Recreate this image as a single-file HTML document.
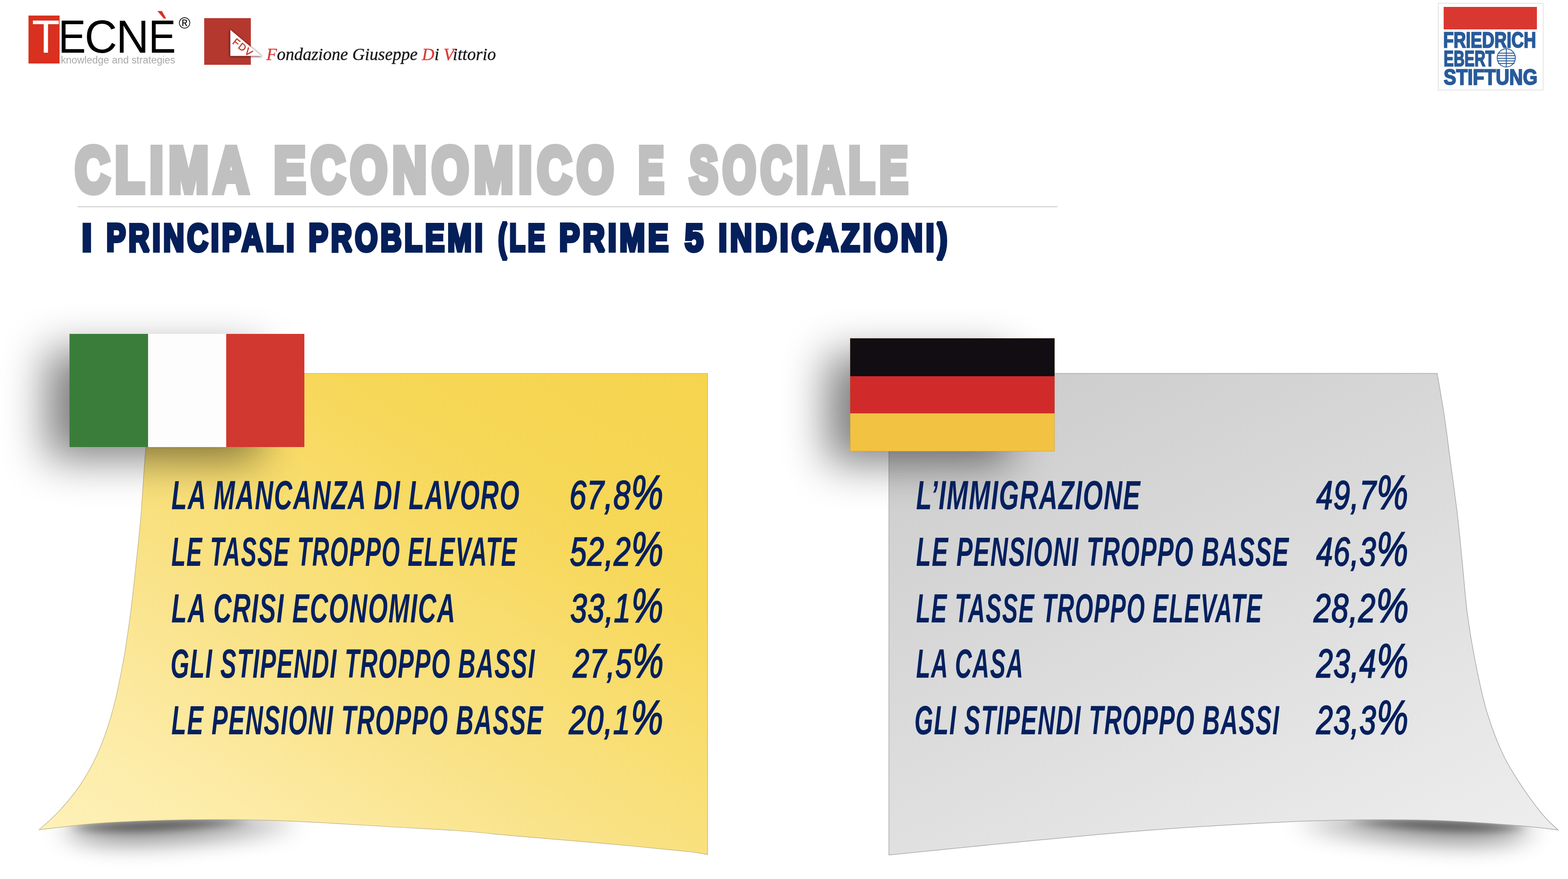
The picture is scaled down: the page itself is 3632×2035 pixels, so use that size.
<!DOCTYPE html>
<html><head><meta charset="utf-8">
<style>
html,body{margin:0;padding:0;background:#fff;}
body{width:3632px;height:2035px;position:relative;overflow:hidden;font-family:"Liberation Sans",sans-serif;}
.abs{position:absolute;}
#bg{position:absolute;left:0;top:0;}
.t{position:absolute;white-space:pre;transform-origin:0 0;line-height:1;}
#fdv span{color:#dc3b36;-webkit-text-stroke-color:#dc3b36;}
</style></head>
<body>
<svg id="bg" width="3632" height="2035" viewBox="0 0 3632 2035">
<defs>
  <linearGradient id="gy" x1="1639" y1="864" x2="737" y2="2324" gradientUnits="userSpaceOnUse">
    <stop offset="0" stop-color="#f6d44f"/>
    <stop offset="0.26" stop-color="#f7d757"/>
    <stop offset="0.53" stop-color="#f9e07b"/>
    <stop offset="0.62" stop-color="#f9e288"/>
    <stop offset="0.84" stop-color="#fdeca8"/>
    <stop offset="1" stop-color="#fef1b8"/>
  </linearGradient>
  <linearGradient id="gg" x1="2059" y1="864" x2="2764" y2="2333" gradientUnits="userSpaceOnUse">
    <stop offset="0" stop-color="#cacaca"/>
    <stop offset="1" stop-color="#eeeeee"/>
  </linearGradient>
  <filter id="b30" x="-2" y="-2" width="5" height="5"><feGaussianBlur stdDeviation="30"/></filter>
  <filter id="b16" x="-2" y="-2" width="5" height="5"><feGaussianBlur stdDeviation="16"/></filter>
  <filter id="b28" x="-2" y="-2" width="5" height="5"><feGaussianBlur stdDeviation="28"/></filter>
  <filter id="b10" x="-2" y="-2" width="5" height="5"><feGaussianBlur stdDeviation="10"/></filter>
  <filter id="b14" x="-2" y="-2" width="5" height="5"><feGaussianBlur stdDeviation="14"/></filter>
  <filter id="b50" x="-2" y="-2" width="5" height="5"><feGaussianBlur stdDeviation="50"/></filter>
  <filter id="b42" x="-2" y="-2" width="5" height="5"><feGaussianBlur stdDeviation="42"/></filter>
  <filter id="b33" x="-2" y="-2" width="5" height="5"><feGaussianBlur stdDeviation="33"/></filter>
</defs>
<!-- note curl shadows -->
<path d="M140,1917 C220,1905 400,1896 520,1897 C590,1898 650,1900 700,1903 C590,1925 450,1945 320,1948 C230,1950 170,1940 140,1917 Z" fill="#000" opacity="0.55" filter="url(#b28)"/>
<path d="M160,1914 C230,1904 360,1897 460,1897 C510,1898 550,1899 580,1901 C500,1912 400,1922 310,1924 C230,1925 185,1920 160,1914 Z" fill="#000" opacity="0.5" filter="url(#b10)"/>
<path d="M 3558,1917 C 3478,1905 3298,1896 3178,1897 C 3108,1898 3048,1900 2998,1903 C 3108,1925 3248,1945 3378,1948 C 3468,1950 3528,1940 3558,1917 Z" fill="#000" opacity="0.55" filter="url(#b28)"/>
<path d="M 3538,1914 C 3468,1904 3338,1897 3238,1897 C 3188,1898 3148,1899 3118,1901 C 3198,1912 3298,1922 3388,1924 C 3468,1925 3513,1920 3538,1914 Z" fill="#000" opacity="0.5" filter="url(#b10)"/>
<!-- yellow note -->
<path id="ny" d="M369,864.5 L1639,864.5 L1639,1978.6 C1630.5,1977.3 1628.8,1975.2 1588.0,1970.8 C1547.2,1966.4 1458.7,1958.2 1394.0,1952.4 C1329.3,1946.6 1256.0,1940.8 1200.0,1935.9 C1144.0,1931.0 1105.0,1926.5 1058.0,1923.0 C1011.0,1919.5 964.5,1917.7 918.0,1915.0 C871.5,1912.3 825.5,1909.2 779.0,1906.6 C732.5,1904.0 685.7,1901.1 639.0,1899.6 C592.3,1898.0 545.6,1897.3 499.0,1897.3 C452.4,1897.3 406.1,1898.0 359.5,1899.6 C312.9,1901.1 264.5,1903.0 219.7,1906.6 C174.9,1910.2 112.0,1918.6 90.5,1921.0 C98.1,1914.0 120.2,1895.9 136.0,1878.7 C151.8,1861.5 170.3,1840.6 185.6,1817.7 C200.8,1794.8 215.2,1769.5 227.5,1741.5 C239.8,1713.5 250.0,1684.2 259.5,1650.0 C269.0,1615.8 277.5,1574.0 284.6,1536.0 C291.7,1498.0 296.9,1460.2 302.0,1422.0 C307.1,1383.8 310.9,1345.2 315.0,1307.0 C319.1,1268.8 322.7,1238.1 326.5,1193.0 C330.3,1147.9 333.8,1074.8 338.0,1036.6 C342.2,998.4 346.8,992.7 352.0,964.0 C357.2,935.3 366.2,881.1 369.0,864.5 Z" fill="url(#gy)" stroke="#b9ad80" stroke-width="1.2"/>
<!-- gray note -->
<path id="ng" d="M2059,864.5 L3329,864.5 C3331.8,881.1 3340.4,928.3 3345.7,964.0 C3351.0,999.7 3355.9,1040.5 3361.0,1078.7 C3366.1,1116.9 3371.6,1155.0 3376.0,1193.0 C3380.4,1231.0 3383.8,1268.8 3387.6,1307.0 C3391.4,1345.2 3393.9,1383.8 3399.0,1422.0 C3404.1,1460.2 3410.4,1498.0 3418.0,1536.0 C3425.6,1574.0 3433.9,1614.4 3444.7,1650.0 C3455.5,1685.6 3468.8,1720.2 3482.8,1749.5 C3496.8,1778.8 3513.3,1802.8 3528.5,1825.7 C3543.7,1848.6 3560.6,1870.7 3574.0,1886.7 C3587.4,1902.7 3603.2,1915.7 3609.0,1921.5 C3594.9,1919.9 3569.2,1915.6 3524.5,1912.0 C3479.8,1908.4 3402.1,1902.3 3341.0,1900.0 C3279.9,1897.7 3219.0,1897.5 3158.0,1898.0 C3097.0,1898.5 3056.3,1899.1 2975.0,1903.0 C2893.7,1906.9 2771.7,1913.8 2670.0,1921.4 C2568.3,1929.0 2466.8,1939.1 2365.0,1948.8 C2263.2,1958.5 2110.0,1974.4 2059.0,1979.5 Z" fill="url(#gg)" stroke="#a9a9a9" stroke-width="1.5"/>
<!-- flag shadows -->
<rect x="108" y="812" width="492" height="250" fill="#000" opacity="0.5" filter="url(#b50)"/>
<rect x="1916" y="822" width="422" height="250" fill="#000" opacity="0.5" filter="url(#b50)"/>
<!-- italian flag -->
<rect x="161" y="773" width="182" height="262" fill="#3a7d3a"/>
<rect x="343" y="773" width="181" height="262" fill="#fdfdfd"/>
<rect x="524" y="773" width="181" height="262" fill="#d13830"/>
<!-- german flag -->
<rect x="1969" y="783" width="474" height="88" fill="#110d12"/>
<rect x="1969" y="871" width="474" height="86" fill="#d02b2a"/>
<rect x="1969" y="957" width="474" height="88" fill="#f2c243"/>
<rect x="1969.5" y="783.5" width="473" height="261" fill="none" stroke="#8a7a50" stroke-opacity="0.4" stroke-width="1"/>
<!-- title rule -->
<rect x="180" y="477.6" width="2269.5" height="2" fill="#c9c9c9"/>
<!-- TECNE red box -->
<rect x="66" y="36" width="72" height="111" fill="#d93020"/>
<!-- FDV logo -->
<filter id="fb" x="-50%" y="-50%" width="200%" height="200%"><feGaussianBlur stdDeviation="2.5"/></filter>
<rect x="473" y="42" width="108" height="108" fill="#b5382f"/>
<path d="M532,68 L532,131 L607,131 Z" fill="#4a0f0a" opacity="0.85" filter="url(#fb)"/>
<path d="M533.5,69 L533.5,129.6 L606,129.6 Z" fill="#fdfdfd"/>
<text transform="translate(537,100) rotate(38)" font-family="Liberation Sans" font-size="23" fill="#c2362e" stroke="#c2362e" stroke-width="0.6" letter-spacing="2.5">FDV</text>
<!-- FES logo -->
<rect x="3331.5" y="7.5" width="243" height="201" fill="#fff" stroke="#dcdcdc" stroke-width="1.5"/>
<rect x="3344" y="16" width="216" height="52" fill="#d93831"/>
</svg>
<svg class="abs" style="left:0;top:0" width="3632" height="700" viewBox="0 0 3632 700" font-family="Liberation Sans" font-weight="bold">
<text transform="translate(174.5,444.06) scale(0.745,1)" font-size="147" letter-spacing="18" fill="#c0c0c0" stroke="#c0c0c0" stroke-width="16" stroke-linejoin="miter" stroke-miterlimit="2">CLIMA</text>
<text transform="translate(635.0,444.06) scale(0.7366,1)" font-size="147" letter-spacing="18" fill="#c0c0c0" stroke="#c0c0c0" stroke-width="16" stroke-linejoin="miter" stroke-miterlimit="2">ECONOMICO</text>
<text transform="translate(1479.0,444.06) scale(0.597,1)" font-size="147" letter-spacing="18" fill="#c0c0c0" stroke="#c0c0c0" stroke-width="16" stroke-linejoin="miter" stroke-miterlimit="2">E</text>
<text transform="translate(1597.4,444.06) scale(0.6636,1)" font-size="147" letter-spacing="18" fill="#c0c0c0" stroke="#c0c0c0" stroke-width="16" stroke-linejoin="miter" stroke-miterlimit="2">SOCIALE</text>
<text transform="translate(189.4,581.08) scale(0.9336,1)" font-size="89.5" letter-spacing="9" fill="#041f59" stroke="#041f59" stroke-width="8" stroke-linejoin="miter" stroke-miterlimit="2">I</text>
<text transform="translate(246.4,581.08) scale(0.7486,1)" font-size="89.5" letter-spacing="9" fill="#041f59" stroke="#041f59" stroke-width="8" stroke-linejoin="miter" stroke-miterlimit="2">PRINCIPALI</text>
<text transform="translate(715.0,581.08) scale(0.7533,1)" font-size="89.5" letter-spacing="9" fill="#041f59" stroke="#041f59" stroke-width="8" stroke-linejoin="miter" stroke-miterlimit="2">PROBLEMI</text>
<text transform="translate(1154.0,581.08) scale(0.6675,1)" font-size="89.5" letter-spacing="9" fill="#041f59" stroke="#041f59" stroke-width="8" stroke-linejoin="miter" stroke-miterlimit="2">(LE</text>
<text transform="translate(1295.5,581.08) scale(0.7915,1)" font-size="89.5" letter-spacing="9" fill="#041f59" stroke="#041f59" stroke-width="8" stroke-linejoin="miter" stroke-miterlimit="2">PRIME</text>
<text transform="translate(1586.5,581.08) scale(0.855,1)" font-size="89.5" letter-spacing="9" fill="#041f59" stroke="#041f59" stroke-width="8" stroke-linejoin="miter" stroke-miterlimit="2">5</text>
<text transform="translate(1664.6,581.08) scale(0.7841,1)" font-size="89.5" letter-spacing="9" fill="#041f59" stroke="#041f59" stroke-width="8" stroke-linejoin="miter" stroke-miterlimit="2">INDICAZIONI)</text>
</svg>
<div class="t" id="y1" style="left:396.5px;top:1099.0px;font-size:95px;font-family:'Liberation Sans';font-weight:bold;font-style:italic;letter-spacing:3px;color:#04205e;transform:scaleX(0.619);">LA MANCANZA DI LAVORO</div>
<div class="t" id="y2" style="left:396.5px;top:1230.0px;font-size:95px;font-family:'Liberation Sans';font-weight:bold;font-style:italic;letter-spacing:3px;color:#04205e;transform:scaleX(0.5706);">LE TASSE TROPPO ELEVATE</div>
<div class="t" id="y3" style="left:396.5px;top:1361.0px;font-size:95px;font-family:'Liberation Sans';font-weight:bold;font-style:italic;letter-spacing:3px;color:#04205e;transform:scaleX(0.6135);">LA CRISI ECONOMICA</div>
<div class="t" id="y4" style="left:394.5px;top:1489.0px;font-size:95px;font-family:'Liberation Sans';font-weight:bold;font-style:italic;letter-spacing:3px;color:#04205e;transform:scaleX(0.5861);">GLI STIPENDI TROPPO BASSI</div>
<div class="t" id="y5" style="left:396.5px;top:1620.0px;font-size:95px;font-family:'Liberation Sans';font-weight:bold;font-style:italic;letter-spacing:3px;color:#04205e;transform:scaleX(0.5925);">LE PENSIONI TROPPO BASSE</div>
<div class="t" id="yp1" style="left:1319.4px;top:1100.0px;font-size:92.4px;font-family:'Liberation Sans';font-style:italic;letter-spacing:2px;color:#04205e;-webkit-text-stroke:2.6px #04205e;transform:scaleX(0.7591);">67,8<span style="font-size:1.2em;line-height:0">%</span></div>
<div class="t" id="yp2" style="left:1319.6px;top:1231.0px;font-size:92.4px;font-family:'Liberation Sans';font-style:italic;letter-spacing:2px;color:#04205e;-webkit-text-stroke:2.6px #04205e;transform:scaleX(0.756);">52,2<span style="font-size:1.2em;line-height:0">%</span></div>
<div class="t" id="yp3" style="left:1321.0px;top:1362.0px;font-size:92.4px;font-family:'Liberation Sans';font-style:italic;letter-spacing:2px;color:#04205e;-webkit-text-stroke:2.6px #04205e;transform:scaleX(0.7518);">33,1<span style="font-size:1.2em;line-height:0">%</span></div>
<div class="t" id="yp4" style="left:1327.0px;top:1490.0px;font-size:92.4px;font-family:'Liberation Sans';font-style:italic;letter-spacing:2px;color:#04205e;-webkit-text-stroke:2.6px #04205e;transform:scaleX(0.7334);">27,5<span style="font-size:1.2em;line-height:0">%</span></div>
<div class="t" id="yp5" style="left:1318.0px;top:1621.0px;font-size:92.4px;font-family:'Liberation Sans';font-style:italic;letter-spacing:2px;color:#04205e;-webkit-text-stroke:2.6px #04205e;transform:scaleX(0.7614);">20,1<span style="font-size:1.2em;line-height:0">%</span></div>
<div class="t" id="g1" style="left:2121.7px;top:1099.0px;font-size:95px;font-family:'Liberation Sans';font-weight:bold;font-style:italic;letter-spacing:3px;color:#04205e;transform:scaleX(0.6261);">L’IMMIGRAZIONE</div>
<div class="t" id="g2" style="left:2121.7px;top:1230.0px;font-size:95px;font-family:'Liberation Sans';font-weight:bold;font-style:italic;letter-spacing:3px;color:#04205e;transform:scaleX(0.5943);">LE PENSIONI TROPPO BASSE</div>
<div class="t" id="g3" style="left:2121.7px;top:1361.0px;font-size:95px;font-family:'Liberation Sans';font-weight:bold;font-style:italic;letter-spacing:3px;color:#04205e;transform:scaleX(0.5713);">LE TASSE TROPPO ELEVATE</div>
<div class="t" id="g4" style="left:2121.7px;top:1489.0px;font-size:95px;font-family:'Liberation Sans';font-weight:bold;font-style:italic;letter-spacing:3px;color:#04205e;transform:scaleX(0.5675);">LA CASA</div>
<div class="t" id="g5" style="left:2118.0px;top:1620.0px;font-size:95px;font-family:'Liberation Sans';font-weight:bold;font-style:italic;letter-spacing:3px;color:#04205e;transform:scaleX(0.587);">GLI STIPENDI TROPPO BASSI</div>
<div class="t" id="gp1" style="left:3048.8px;top:1100.0px;font-size:92.4px;font-family:'Liberation Sans';font-style:italic;letter-spacing:2px;color:#04205e;-webkit-text-stroke:2.6px #04205e;transform:scaleX(0.743);">49,7<span style="font-size:1.2em;line-height:0">%</span></div>
<div class="t" id="gp2" style="left:3048.8px;top:1231.0px;font-size:92.4px;font-family:'Liberation Sans';font-style:italic;letter-spacing:2px;color:#04205e;-webkit-text-stroke:2.6px #04205e;transform:scaleX(0.743);">46,3<span style="font-size:1.2em;line-height:0">%</span></div>
<div class="t" id="gp3" style="left:3042.5px;top:1362.0px;font-size:92.4px;font-family:'Liberation Sans';font-style:italic;letter-spacing:2px;color:#04205e;-webkit-text-stroke:2.6px #04205e;transform:scaleX(0.7681);">28,2<span style="font-size:1.2em;line-height:0">%</span></div>
<div class="t" id="gp4" style="left:3048.8px;top:1490.0px;font-size:92.4px;font-family:'Liberation Sans';font-style:italic;letter-spacing:2px;color:#04205e;-webkit-text-stroke:2.6px #04205e;transform:scaleX(0.7439);">23,4<span style="font-size:1.2em;line-height:0">%</span></div>
<div class="t" id="gp5" style="left:3048.8px;top:1621.0px;font-size:92.4px;font-family:'Liberation Sans';font-style:italic;letter-spacing:2px;color:#04205e;-webkit-text-stroke:2.6px #04205e;transform:scaleX(0.7439);">23,3<span style="font-size:1.2em;line-height:0">%</span></div>
<div class="t" id="lT" style="left:74.4px;top:30.6px;font-size:108px;font-family:'Liberation Sans';color:#fff;transform:scaleX(0.9787);">T</div>
<div class="t" id="lE" style="left:135.0px;top:31.0px;font-size:108px;font-family:'Liberation Sans';color:#000;transform:scaleX(0.888);">E</div>
<div class="t" id="lC" style="left:195.8px;top:31.0px;font-size:108px;font-family:'Liberation Sans';color:#000;transform:scaleX(0.9662);">C</div>
<div class="t" id="lN" style="left:269.0px;top:31.0px;font-size:108px;font-family:'Liberation Sans';color:#000;transform:scaleX(0.9751);">N</div>
<div class="t" id="lE2" style="left:343.7px;top:31.0px;font-size:108px;font-family:'Liberation Sans';color:#000;transform:scaleX(0.8811);background:linear-gradient(transparent 0,transparent 15px,#000 15px);-webkit-background-clip:text;background-clip:text;color:transparent;">È</div>
<div class="t" id="lR" style="left:413.5px;top:35.5px;font-size:36px;font-family:'Liberation Sans';color:#000;transform:scaleX(1.0204);">®</div>
<div class="t" id="lK" style="left:140.5px;top:127.7px;font-size:23.5px;font-family:'Liberation Sans';color:#a9a9a9;transform:scaleX(0.9943);">knowledge and strategies</div>
<div class="t" id="fdv" style="left:617.0px;top:107.0px;font-size:39.5px;font-family:'Liberation Serif';font-style:italic;color:#1a1a1a;-webkit-text-stroke:0.5px #1a1a1a;transform:scaleX(1.0134);"><span>F</span>ondazione Giuseppe <span>D</span>i <span>V</span>ittorio</div>
<div class="t" id="f1" style="left:3343.4px;top:68.0px;font-size:50.5px;font-family:'Liberation Sans';font-weight:bold;color:#285b9b;-webkit-text-stroke:2.5px #285b9b;transform:scaleX(0.7816);">FRIEDRICH</div>
<div class="t" id="f2" style="left:3344.0px;top:111.0px;font-size:50.5px;font-family:'Liberation Sans';font-weight:bold;color:#285b9b;-webkit-text-stroke:2.5px #285b9b;transform:scaleX(0.6882);">EBERT</div>
<div class="t" id="f3" style="left:3344.0px;top:154.0px;font-size:50.5px;font-family:'Liberation Sans';font-weight:bold;color:#285b9b;-webkit-text-stroke:2.5px #285b9b;transform:scaleX(0.8606);">STIFTUNG</div>
<svg class="abs" style="left:0;top:0" width="420" height="60" viewBox="0 0 420 60"><polygon points="364.6,25.6 375,25.6 384.8,42.6 379.6,43.1" fill="#de2f1e"/></svg>
<svg class="abs" style="left:3466px;top:111px" width="46" height="46" viewBox="0 0 46 46">
  <circle cx="23" cy="23" r="21" fill="#fff" stroke="#285b9b" stroke-width="2"/>
  <g stroke="#285b9b" stroke-width="2">
   <line x1="4" y1="12" x2="42" y2="12"/><line x1="2" y1="18" x2="44" y2="18"/><line x1="2" y1="24" x2="44" y2="24"/><line x1="2" y1="30" x2="44" y2="30"/><line x1="4" y1="36" x2="42" y2="36"/>
   <line x1="23" y1="2" x2="23" y2="44"/>
  </g>
</svg>
</body></html>
